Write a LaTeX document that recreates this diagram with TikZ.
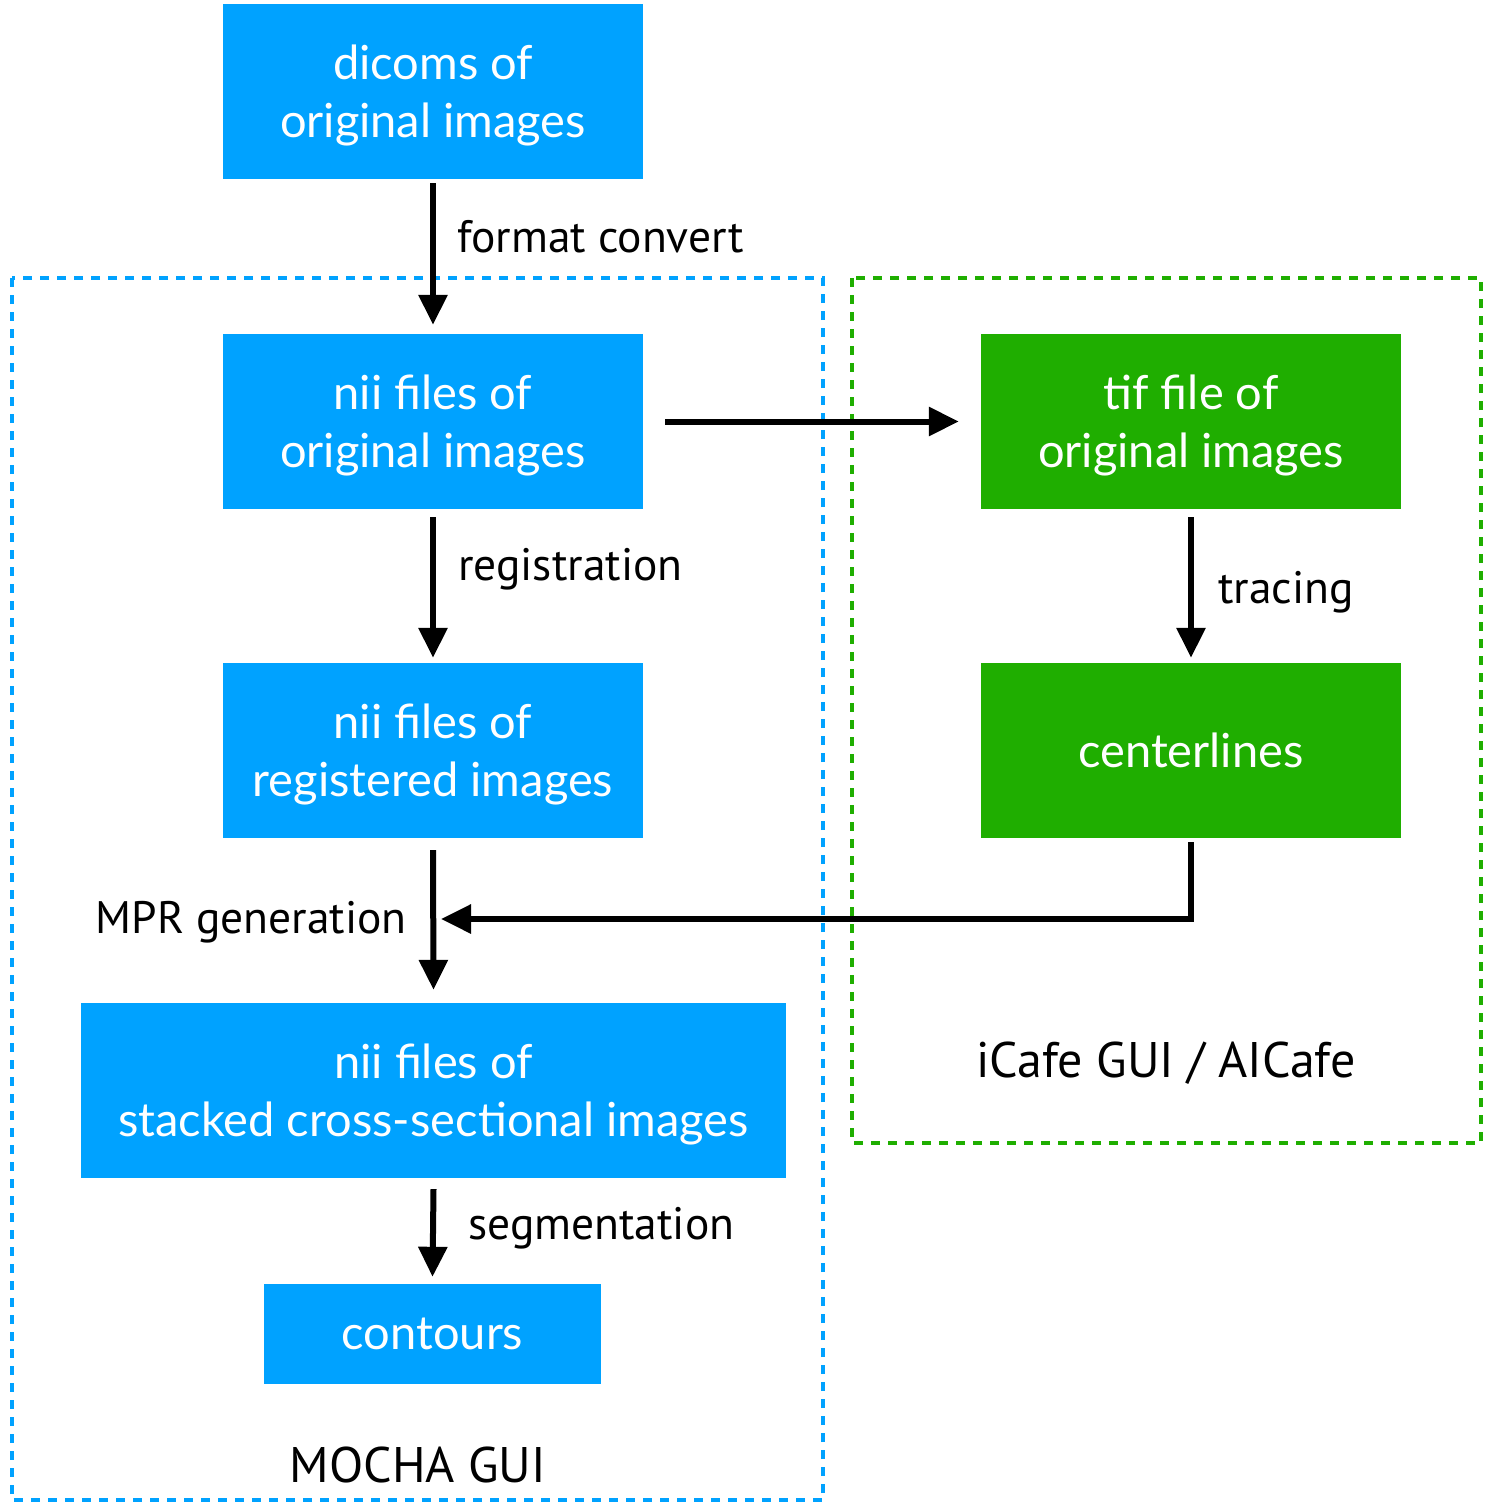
\documentclass[tikz,border=0pt]{standalone}
\usepackage{fontspec}
\setmainfont{PT Sans}
\newfontfamily\boxfont{Lato}
\usetikzlibrary{arrows.meta}
\definecolor{bblue}{HTML}{00A2FF}
\definecolor{bgreen}{HTML}{1FAE00}
\begin{document}
\begin{tikzpicture}[x=1pt,y=-1pt,
  bluebox/.style={fill=bblue,draw=none,minimum width=420pt,minimum height=175pt,text=white,font=\boxfont\fontsize{47}{58}\selectfont,align=center,inner sep=0pt,text depth=0pt},
  greenbox/.style={bluebox,fill=bgreen},
  arr/.style={line width=6pt,-{Triangle[length=30pt,width=28pt]}},
  lbl/.style={font=\fontsize{45.5}{50}\selectfont,inner sep=0pt},
  grp/.style={font=\fontsize{50}{55}\selectfont,inner sep=0pt},
  frame/.style={line width=3.5pt,dash pattern=on 9pt off 8pt}]
\useasboundingbox (0,0) rectangle (1492,1512);
\draw[frame,draw=bblue] (12,278) rectangle (823,1500);
\draw[frame,draw=bgreen] (852,278) rectangle (1481,1143);
\node[bluebox] (dicom) at (433,91.5) {dicoms of\\original images};
\node[bluebox] (niio) at (433,421.5) {nii files of\\original images};
\node[bluebox] (niir) at (433,750.5) {nii files of\\registered images};
\node[bluebox,minimum width=705pt] (stack) at (433.5,1090.5) {nii files of\\stacked cross-sectional images};
\node[bluebox,minimum width=337pt,minimum height=100pt] (cont) at (432.5,1334) {contours};
\node[greenbox] (tif) at (1191,421.5) {tif file of\\original images};
\node[greenbox] (cl) at (1191,750.5) {centerlines};
\coordinate (jn) at (433,919);
\draw[arr] ([yshift=-4pt]dicom.south) -- ([yshift=9pt]niio.north);
\draw[arr] ([xshift=22pt]niio.east) -- ([xshift=-22pt]tif.west);
\draw[arr] ([yshift=-8pt]niio.south) -- ([yshift=5pt]niir.north);
\draw[arr] ([yshift=-8pt]tif.south) -- ([yshift=5pt]cl.north);
\draw[arr] ([yshift=-12pt]niir.south) -- ([yshift=13pt]stack.north);
\draw[arr] ([yshift=-4pt]cl.south) |- ([xshift=8pt]jn);
\draw[arr] ([yshift=-11pt]stack.south) -- ([yshift=7pt]cont.north);
\node[lbl,anchor=base west] (l1) at (457,252) {format convert};
\node[lbl,anchor=base west] (l2) at (458,580) {registration};
\node[lbl,anchor=base west] (l3) at (1218,603) {tracing};
\node[lbl,anchor=base east] (l4) at (407,933) {MPR generation};
\node[lbl,anchor=base west] (l5) at (468,1239) {segmentation};
\node[grp,anchor=base] (l6) at (418,1482) {MOCHA GUI};
\node[grp,anchor=base] (l7) at (1166,1077) {iCafe GUI / AICafe};
\end{tikzpicture}
\end{document}
